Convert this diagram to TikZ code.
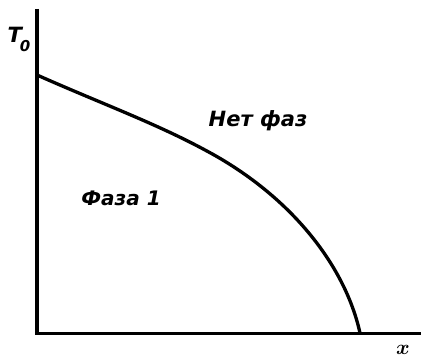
\documentclass[tikz,border=0pt]{standalone}
\usepackage{bm}
\usepackage{fontspec}
\setmainfont{DejaVu Sans}
\begin{document}
\begin{tikzpicture}[x=1pt,y=-1pt,
  axis/.style={line width=3.5pt},
  curve/.style={line width=3.3pt, line join=round},
  lbl/.style={font=\bfseries\itshape, inner sep=0pt}]
\useasboundingbox (0,0) rectangle (423,358);
\coordinate (top) at (37,9);
\coordinate (origin) at (37,333.5);
\coordinate (xend) at (421,333.5);
\coordinate (c0) at (37,75);
\coordinate (cm) at (205,150);
\coordinate (c1) at (360,333);
\draw[axis] (top) -- (origin) -- (xend);
\draw[curve] (c0) .. controls (100,103) and (155,123) .. (cm)
  .. controls (290,195) and (345,265) .. (c1);
\node[lbl, font=\fontsize{21}{21}\selectfont\bfseries\itshape] (t0) at (19,39) {T\kern-2pt\raisebox{-9pt}{\fontsize{15}{15}\selectfont 0}};
\node[lbl, font=\fontsize{21}{21}\selectfont\bfseries\itshape] (nophase) at (258,121) {Нет фаз};
\node[lbl, font=\fontsize{20}{20}\selectfont\bfseries\itshape] (phase1) at (121,198) {Фаза 1};
\node[inner sep=0pt, anchor=base, font=\fontsize{22}{22}\selectfont] (xl) at (403,354) {$\bm{x}$};
\end{tikzpicture}
\end{document}
